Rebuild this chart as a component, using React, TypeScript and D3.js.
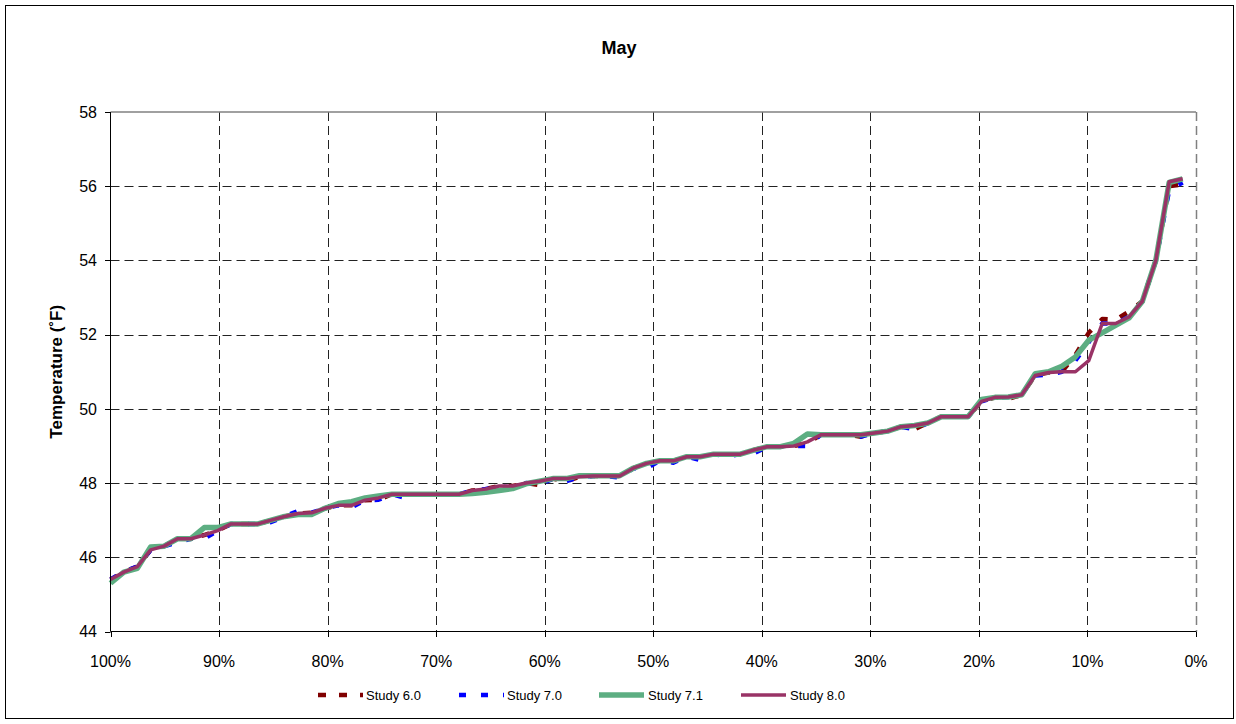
import React, { useEffect, useRef } from 'react';
import * as d3 from 'd3';

// exceedance (% of time) for each ranked value
const exceedance = [
  100, 98.77, 97.53, 96.3, 95.06, 93.83, 92.59, 91.36, 90.12, 88.89,
  87.65, 86.42, 85.19, 83.95, 82.72, 81.48, 80.25, 79.01, 77.78, 76.54,
  75.31, 74.07, 72.84, 71.6, 70.37, 69.14, 67.9, 66.67, 65.43, 64.2,
  62.96, 61.73, 60.49, 59.26, 58.02, 56.79, 55.56, 54.32, 53.09, 51.85,
  50.62, 49.38, 48.15, 46.91, 45.68, 44.44, 43.21, 41.98, 40.74, 39.51,
  38.27, 37.04, 35.8, 34.57, 33.33, 32.1, 30.86, 29.63, 28.4, 27.16,
  25.93, 24.69, 23.46, 22.22, 20.99, 19.75, 18.52, 17.28, 16.05, 14.81,
  13.58, 12.35, 11.11, 9.88, 8.64, 7.41, 6.17, 4.94, 3.7, 2.47,
  1.23,
];

const study60 = [
  45.4, 45.6, 45.75, 46.2, 46.3, 46.5, 46.5, 46.6, 46.72, 46.9,
  46.9, 46.9, 47.0, 47.1, 47.18, 47.2, 47.32, 47.4, 47.4, 47.54,
  47.55, 47.7, 47.7, 47.7, 47.7, 47.7, 47.7, 47.8, 47.84, 47.92,
  47.92, 48.0, 47.95, 48.12, 48.05, 48.17, 48.19, 48.19, 48.19, 48.4,
  48.53, 48.6, 48.6, 48.71, 48.71, 48.78, 48.78, 48.78, 48.89, 48.98,
  48.98, 49.0, 49.07, 49.3, 49.3, 49.3, 49.25, 49.35, 49.4, 49.52,
  49.45, 49.62, 49.79, 49.79, 49.79, 50.2, 50.31, 50.27, 50.38, 50.9,
  50.98, 51.0, 51.45, 52.05, 52.42, 52.4, 52.62, 52.9, 54.0, 56.0,
  56.05,
];

const study70 = [
  45.4, 45.62, 45.75, 46.2, 46.3, 46.4, 46.5, 46.5, 46.72, 46.9,
  46.9, 46.9, 46.95, 47.1, 47.25, 47.2, 47.32, 47.4, 47.35, 47.54,
  47.55, 47.7, 47.6, 47.7, 47.7, 47.7, 47.7, 47.8, 47.84, 47.92,
  47.87, 48.0, 47.95, 48.12, 48.05, 48.17, 48.19, 48.19, 48.15, 48.4,
  48.4, 48.6, 48.55, 48.71, 48.62, 48.78, 48.72, 48.78, 48.8, 48.98,
  48.98, 49.0, 49.0, 49.3, 49.3, 49.3, 49.25, 49.35, 49.4, 49.52,
  49.45, 49.62, 49.79, 49.79, 49.79, 50.2, 50.31, 50.32, 50.38, 50.9,
  50.92, 51.0, 51.3, 51.8, 52.3, 52.3, 52.48, 52.9, 54.0, 55.9,
  56.1,
];

const study71 = [
  45.3, 45.6, 45.7, 46.28, 46.3, 46.5, 46.5, 46.8, 46.8, 46.9,
  46.9, 46.9, 47.0, 47.1, 47.15, 47.15, 47.32, 47.45, 47.5, 47.6,
  47.65, 47.7, 47.7, 47.7, 47.7, 47.7, 47.7, 47.72, 47.75, 47.8,
  47.85, 47.98, 48.05, 48.12, 48.12, 48.2, 48.2, 48.2, 48.2, 48.4,
  48.53, 48.6, 48.6, 48.71, 48.71, 48.78, 48.78, 48.78, 48.89, 48.98,
  48.98, 49.07, 49.32, 49.3, 49.3, 49.3, 49.3, 49.35, 49.4, 49.52,
  49.55, 49.62, 49.79, 49.79, 49.79, 50.25, 50.31, 50.32, 50.38, 50.95,
  51.0, 51.15, 51.4, 51.85, 52.05, 52.25, 52.45, 52.9, 54.0, 56.1,
  56.2,
];

const study80 = [
  45.4, 45.6, 45.75, 46.2, 46.3, 46.5, 46.5, 46.6, 46.72, 46.9,
  46.9, 46.9, 47.0, 47.1, 47.18, 47.2, 47.32, 47.4, 47.4, 47.54,
  47.6, 47.7, 47.7, 47.7, 47.7, 47.7, 47.7, 47.8, 47.84, 47.92,
  47.92, 48.0, 48.05, 48.12, 48.12, 48.17, 48.19, 48.19, 48.19, 48.4,
  48.53, 48.6, 48.6, 48.71, 48.71, 48.78, 48.78, 48.78, 48.89, 48.98,
  48.98, 49.0, 49.11, 49.3, 49.3, 49.3, 49.3, 49.35, 49.4, 49.52,
  49.55, 49.62, 49.79, 49.79, 49.79, 50.2, 50.31, 50.32, 50.38, 50.9,
  50.98, 51.0, 51.0, 51.3, 52.3, 52.3, 52.48, 52.9, 54.0, 56.12,
  56.2,
];

const xTicks = [100, 90, 80, 70, 60, 50, 40, 30, 20, 10, 0];
const yTicks = [44, 46, 48, 50, 52, 54, 56, 58];

const series = [
  { name: 'Study 6.0', values: study60, color: '#800000', width: 4.5, dash: '8 13', legendX: 318 },
  { name: 'Study 7.0', values: study70, color: '#0000ff', width: 4.5, dash: '7 15', legendX: 459 },
  { name: 'Study 7.1', values: study71, color: '#5dae82', width: 5.5, dash: null, legendX: 599 },
  { name: 'Study 8.0', values: study80, color: '#993366', width: 3.5, dash: null, legendX: 741 },
];

const FONT = "Arial, 'Liberation Sans', sans-serif";

const App = () => {
  const svgRef = useRef<SVGSVGElement>(null);

  useEffect(() => {
    document.body.style.margin = '0';
    const svg = d3.select(svgRef.current);
    svg.selectAll('*').remove();

    const width = 1236;
    const height = 724;
    const plot = { left: 110.5, right: 1196, top: 112, bottom: 631.5 };

    svg.attr('width', width).attr('height', height);

    const x = d3.scaleLinear().domain([100, 0]).range([plot.left, plot.right]);
    const y = d3.scaleLinear().domain([44, 58]).range([plot.bottom, plot.top]);

    // outer frame
    svg.append('rect')
      .attr('x', 5.5).attr('y', 5.5)
      .attr('width', 1228).attr('height', 713)
      .attr('fill', 'white')
      .attr('stroke', '#000')
      .attr('stroke-width', 1);

    // title
    svg.append('text')
      .attr('x', 619).attr('y', 54)
      .attr('text-anchor', 'middle')
      .style('font-family', FONT)
      .style('font-size', '18px')
      .style('font-weight', 'bold')
      .text('May');

    // grid
    svg.append('g').selectAll('line')
      .data(xTicks.filter(d => d !== 100))
      .enter().append('line')
      .attr('x1', d => Math.round(x(d)) + 0.5).attr('x2', d => Math.round(x(d)) + 0.5)
      .attr('y1', plot.top).attr('y2', plot.bottom)
      .attr('stroke', d => d === 0 ? '#808080' : '#222')
      .attr('stroke-width', d => d === 0 ? 1.5 : 1)
      .attr('stroke-dasharray', '9 5');

    svg.append('g').selectAll('line')
      .data(yTicks.filter(d => d !== 44 && d !== 58))
      .enter().append('line')
      .attr('x1', plot.left).attr('x2', plot.right)
      .attr('y1', d => Math.round(y(d)) + 0.5).attr('y2', d => Math.round(y(d)) + 0.5)
      .attr('stroke', '#222')
      .attr('stroke-width', 1)
      .attr('stroke-dasharray', '9 5');

    // top border of plot area
    svg.append('line')
      .attr('x1', plot.left).attr('x2', plot.right)
      .attr('y1', plot.top).attr('y2', plot.top)
      .attr('stroke', '#808080').attr('stroke-width', 1.5);

    // lines
    const line = d3.line<number>()
      .x((d, i) => x(exceedance[i]))
      .y(d => y(d));

    series.forEach(s => {
      svg.append('path')
        .datum(s.values)
        .attr('fill', 'none')
        .attr('stroke', s.color)
        .attr('stroke-width', s.width)
        .attr('stroke-linejoin', 'round')
        .attr('stroke-dasharray', s.dash)
        .attr('d', line);
    });

    // axes
    const yAxis = svg.append('g');
    yAxis.append('line')
      .attr('x1', plot.left).attr('x2', plot.left)
      .attr('y1', plot.top).attr('y2', plot.bottom)
      .attr('stroke', '#000');
    yAxis.selectAll('.tick')
      .data(yTicks)
      .enter().append('line')
      .attr('x1', plot.left - 5.5).attr('x2', plot.left)
      .attr('y1', d => Math.round(y(d)) + 0.5).attr('y2', d => Math.round(y(d)) + 0.5)
      .attr('stroke', '#000');
    yAxis.selectAll('text')
      .data(yTicks)
      .enter().append('text')
      .attr('x', 97)
      .attr('y', d => y(d))
      .attr('dy', '0.36em')
      .attr('text-anchor', 'end')
      .style('font-family', FONT)
      .style('font-size', '16px')
      .text(d => d);

    const xAxis = svg.append('g');
    xAxis.append('line')
      .attr('x1', plot.left).attr('x2', plot.right)
      .attr('y1', plot.bottom).attr('y2', plot.bottom)
      .attr('stroke', '#000');
    xAxis.selectAll('.tick')
      .data(xTicks)
      .enter().append('line')
      .attr('x1', d => Math.round(x(d)) + 0.5).attr('x2', d => Math.round(x(d)) + 0.5)
      .attr('y1', plot.bottom).attr('y2', plot.bottom + 5.5)
      .attr('stroke', '#000');
    xAxis.selectAll('text')
      .data(xTicks)
      .enter().append('text')
      .attr('x', d => x(d))
      .attr('y', 667)
      .attr('text-anchor', 'middle')
      .style('font-family', FONT)
      .style('font-size', '16px')
      .text(d => `${d}%`);

    // y axis title
    svg.append('text')
      .attr('transform', `translate(62,${(plot.top + plot.bottom) / 2}) rotate(-90)`)
      .attr('text-anchor', 'middle')
      .style('font-family', FONT)
      .style('font-size', '17px')
      .style('font-weight', 'bold')
      .text('Temperature (˚F)');

    // legend
    const legend = svg.append('g');
    series.forEach(s => {
      legend.append('line')
        .attr('x1', s.legendX).attr('x2', s.legendX + 45)
        .attr('y1', 695).attr('y2', 695)
        .attr('stroke', s.color)
        .attr('stroke-width', s.width)
        .attr('stroke-dasharray', s.dash);
      legend.append('text')
        .attr('x', s.legendX + (s.dash ? 48 : 49))
        .attr('y', 695)
        .attr('dy', '0.36em')
        .style('font-family', FONT)
        .style('font-size', '13px')
        .text(s.name);
    });
  }, []);

  return (
    <div style={{ position: 'absolute', left: 0, top: 0, width: 1236, height: 724, background: 'white' }}>
      <svg ref={svgRef} style={{ display: 'block' }} />
    </div>
  );
};

export default App;
